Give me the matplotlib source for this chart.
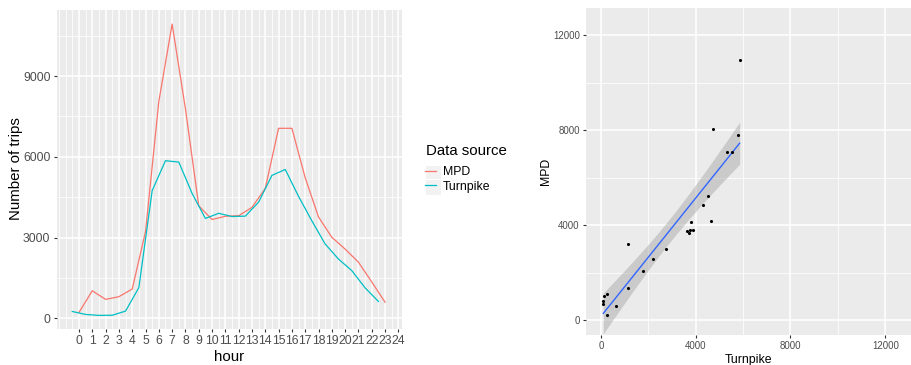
import numpy as np
import matplotlib
matplotlib.use("Agg")
import matplotlib.pyplot as plt
from matplotlib.lines import Line2D
from matplotlib.patches import Rectangle
from matplotlib.ticker import MultipleLocator

plt.rcParams['font.family'] = ['Liberation Sans', 'DejaVu Sans']

# ---- data ----
hours = np.arange(24)
mpd = [215, 1020, 700, 800, 1085, 3220, 8060, 10935, 7780, 4180, 3670, 3790,
       3810, 4120, 4830, 7060, 7060, 5220, 3765, 3010, 2570, 2085, 1350, 595]
turnpike = [250, 140, 105, 110, 265, 1140, 4745, 5855, 5805, 4640, 3710, 3900,
            3780, 3795, 4315, 5310, 5530, 4530, 3620, 2760, 2200, 1770, 1130, 625]
series_names = ["MPD", "Turnpike"]
x_tick_labels = [str(h) for h in range(25)]
y_ticks_left = [0, 3000, 6000, 9000]
ticks_right = [0, 4000, 8000, 12000]

# ---- style ----
C_MPD = "#F8766D"
C_TP = "#00BFC4"
PANEL = "#EBEBEB"
GREY30 = "#4D4D4D"
GREY20 = "#333333"

W, H = 912, 365
fig = plt.figure(figsize=(W / 100, H / 100), dpi=100)


def style_axes(ax, tick_size):
    ax.set_facecolor(PANEL)
    for s in ax.spines.values():
        s.set_visible(False)
    ax.grid(which="major", color="white", lw=1.1)
    ax.grid(which="minor", color="white", lw=0.55)
    ax.set_axisbelow(True)
    ax.tick_params(which="major", length=2.5, width=0.8, color=GREY20,
                   labelsize=tick_size, labelcolor=GREY30, pad=2)
    ax.tick_params(which="minor", length=0)


# ---- left panel: line chart ----
axL = fig.add_axes([56.7 / W, 1 - 328.5 / H, (402 - 56.7) / W, (328.5 - 9.5) / H])
style_axes(axL, 8.8)
x_tp = hours - 0.5
axL.plot(hours, mpd, color=C_MPD, lw=0.9, label=series_names[0])
axL.plot(x_tp, turnpike, color=C_TP, lw=0.9, label=series_names[1])
xmin, xmax = -0.5, 23
xr = xmax - xmin
axL.set_xlim(xmin - 0.05 * xr, xmax + 0.05 * xr + 0.1)
allv = mpd + turnpike
yr = max(allv) - min(allv)
axL.set_ylim(min(allv) - 0.045 * yr, max(allv) + 0.05 * yr)
axL.set_xticks(range(25))
axL.set_xticklabels(x_tick_labels)
axL.xaxis.set_minor_locator(MultipleLocator(0.5))
axL.set_yticks(y_ticks_left)
axL.yaxis.set_minor_locator(MultipleLocator(1500))
axL.set_xlabel("hour", fontsize=10.8, labelpad=2.5)
axL.set_ylabel("Number of trips", fontsize=10.8)
axL.yaxis.set_label_coords((23 - 56.7) / (402 - 56.7), 0.5)

# legend (title drawn as text, keys via legend)
fig.text(426 / W, 1 - 151 / H, "Data source", fontsize=10.8, ha="left", va="center")
for yc in (172, 187):
    fig.patches.append(Rectangle((425 / W, 1 - (yc + 7.5) / H), 16 / W, 15 / H,
                                 transform=fig.transFigure, facecolor="#F2F2F2",
                                 edgecolor="white", lw=0.8, zorder=0))
handles = [Line2D([], [], color=C_MPD, lw=0.9), Line2D([], [], color=C_TP, lw=0.9)]
leg = fig.legend(handles, series_names,
                 loc="center left", bbox_to_anchor=(425.5 / W, 1 - 179.5 / H),
                 frameon=False, fontsize=8.8,
                 handlelength=0.9, handletextpad=0.55, labelspacing=0.2,
                 borderpad=0.0, borderaxespad=0.0)

# ---- right panel: scatter + regression ----
axR = fig.add_axes([586 / W, 1 - 335 / H, (912 - 586) / W, (335 - 8.3) / H])
style_axes(axR, 7.0)
tp = np.array(turnpike, dtype=float)
md = np.array(mpd, dtype=float)
axR.scatter(tp, md, s=5, color="black", lw=0, zorder=4)

n = len(tp)
b, a = np.polyfit(tp, md, 1)
xs = np.linspace(tp.min(), tp.max(), 80)
yhat = a + b * xs
resid = md - (a + b * tp)
s = np.sqrt(np.sum(resid ** 2) / (n - 2))
sxx = np.sum((tp - tp.mean()) ** 2)
se = s * np.sqrt(1 / n + (xs - tp.mean()) ** 2 / sxx)
tq = 2.0739  # t(0.975, df=22)
axR.fill_between(xs, yhat - tq * se, yhat + tq * se, color="#999999", alpha=0.4, lw=0, zorder=2)
axR.plot(xs, yhat, color="#3366FF", lw=1.0, zorder=3)

lim = (-625, 13125)
axR.set_xlim(lim)
axR.set_ylim(lim)
axR.set_xticks(ticks_right)
axR.set_yticks(ticks_right)
axR.xaxis.set_minor_locator(MultipleLocator(2000))
axR.yaxis.set_minor_locator(MultipleLocator(2000))
axR.set_xlabel("Turnpike", fontsize=8.8, labelpad=2)
axR.set_ylabel("MPD", fontsize=8.8)
axR.yaxis.set_label_coords((552 - 586) / (912 - 586), 0.5)

fig.savefig("out.png", dpi=100)
